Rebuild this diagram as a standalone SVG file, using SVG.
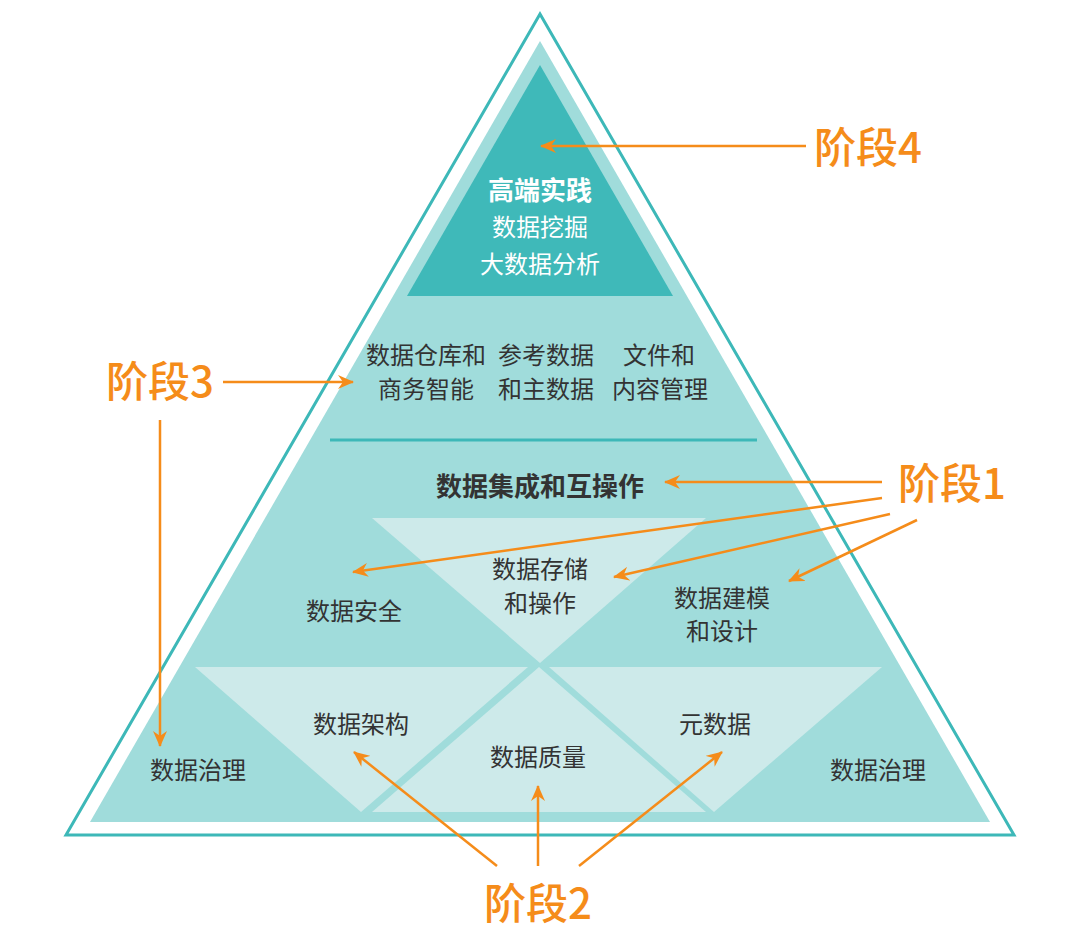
<svg xmlns="http://www.w3.org/2000/svg" width="1080" height="939" viewBox="0 0 1080 939">
<style>
.t{font-family:"Noto Sans CJK SC","Noto Sans",sans-serif;font-size:24px;fill:#333;text-anchor:middle}
.w{fill:#fff}
.b{font-weight:bold;font-size:26px}
.s{font-family:"Noto Sans CJK SC","Noto Sans",sans-serif;font-size:42px;fill:#f58c1a;text-anchor:middle;font-weight:500}
.a{stroke:#f58c1a;stroke-width:2.5;fill:none;marker-end:url(#ah)}
.lt{fill:#cdeaea}
</style>
<defs>
<marker id="ah" markerUnits="userSpaceOnUse" markerWidth="16" markerHeight="14" refX="15" refY="7" orient="auto">
<path d="M0,0 L16,7 L0,14 L5,7 z" fill="#f58c1a"/>
</marker>
</defs>
<rect width="1080" height="939" fill="#fff"/>
<g id="pyramid">
<polygon points="540,14 66,835 1014,835" fill="#fff" stroke="#3db8b8" stroke-width="3"/>
<polygon points="540,41 90,822 990,822" fill="#a0dcdb"/>
</g>
<g id="stage4-top">
<polygon points="540,65 407,296 673,296" fill="#3fb9b9"/>
<text class="t w b" x="540" y="200">高端实践</text>
<text class="t w" x="540" y="236">数据挖掘</text>
<text class="t w" x="540" y="273">大数据分析</text>
</g>
<g id="stage3-layer">
<text class="t" x="426" y="364">数据仓库和</text>
<text class="t" x="426" y="398">商务智能</text>
<text class="t" x="546" y="364">参考数据</text>
<text class="t" x="546" y="398">和主数据</text>
<text class="t" x="659" y="364">文件和</text>
<text class="t" x="660" y="398">内容管理</text>
<line x1="330" y1="440" x2="757" y2="440" stroke="#3db8b8" stroke-width="3"/>
</g>
<g id="integration">
<text class="t b" x="540" y="496">数据集成和互操作</text>
</g>
<g id="storage">
<polygon class="lt" points="372,518 706,518 540,663"/>
<text class="t" x="540" y="578">数据存储</text>
<text class="t" x="540" y="612">和操作</text>
</g>
<g id="security">
<text class="t" x="354" y="620">数据安全</text>
</g>
<g id="modeling">
<text class="t" x="722" y="607">数据建模</text>
<text class="t" x="722" y="640">和设计</text>
</g>
<g id="architecture">
<polygon class="lt" points="195,667 528,667 361,812"/>
<text class="t" x="361" y="733">数据架构</text>
</g>
<g id="metadata">
<polygon class="lt" points="549,667 882,667 714,812"/>
<text class="t" x="715" y="733">元数据</text>
</g>
<g id="quality">
<polygon class="lt" points="539,667 372,812 706,812"/>
<text class="t" x="538" y="766">数据质量</text>
</g>
<g id="governance-left">
<text class="t" x="198" y="779">数据治理</text>
</g>
<g id="governance-right">
<text class="t" x="878" y="779">数据治理</text>
</g>
<g id="labels">
<text class="s" x="868" y="163">阶段4</text>
<text class="s" x="160" y="397">阶段3</text>
<text class="s" x="952" y="499">阶段1</text>
<text class="s" x="538" y="919">阶段2</text>
</g>
<g id="connectors">
<line class="a" x1="806" y1="146" x2="541" y2="146"/>
<line class="a" x1="223" y1="382" x2="353" y2="382"/>
<line class="a" x1="160" y1="420" x2="160" y2="746"/>
<line class="a" x1="882" y1="482" x2="665" y2="482"/>
<line class="a" x1="882" y1="498" x2="353" y2="572"/>
<line class="a" x1="890" y1="514" x2="614" y2="577"/>
<line class="a" x1="917" y1="520" x2="789" y2="581"/>
<line class="a" x1="497" y1="866" x2="354" y2="752"/>
<line class="a" x1="538" y1="866" x2="538" y2="786"/>
<line class="a" x1="579" y1="866" x2="722" y2="752"/>
</g>
</svg>
